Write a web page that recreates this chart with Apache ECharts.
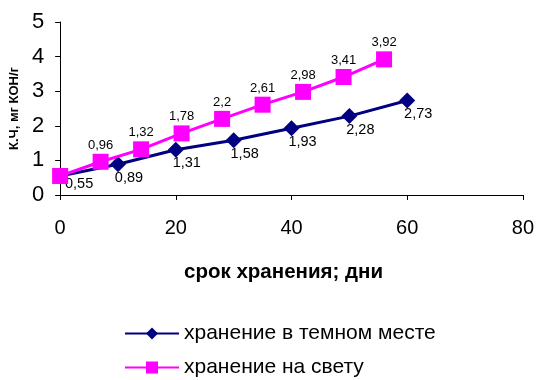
<!DOCTYPE html>
<html>
<head>
<meta charset="utf-8">
<script src="https://cdn.jsdelivr.net/npm/echarts@6/dist/echarts.min.js"></script>
<style>html,body{margin:0;padding:0;background:#fff;}#c{width:537px;height:380px;}</style>
</head>
<body>
<div id="c"></div>
<script>
var darkDays = [0, 10, 20, 30, 40, 50, 60];
var darkValues = [0.55, 0.89, 1.31, 1.58, 1.93, 2.28, 2.73];
var lightDays = [0, 7, 14, 21, 28, 35, 42, 49, 56];
var lightValues = [0.55, 0.96, 1.32, 1.78, 2.2, 2.61, 2.98, 3.41, 3.92];
var seriesNames = ['хранение в темном месте', 'хранение на свету'];
var xTitle = 'срок хранения; дни';
var yTitle = 'К.Ч, мг КОН/г';

function fmt(v) { return String(v).replace('.', ','); }

var darkData = darkDays.map(function (d, i) {
  var item = { value: [d, darkValues[i]] };
  if (i === 0) item.label = { offset: [19, -7] };
  return item;
});
var lightData = lightDays.map(function (d, i) {
  var item = { value: [d, lightValues[i]] };
  if (i === 0) item.label = { show: false };
  return item;
});

var chart = echarts.init(document.getElementById('c'));
var font = 'Arial, "Liberation Sans", sans-serif';
var legendBase = {
  orient: 'vertical', left: 124, padding: 0, itemWidth: 54, itemHeight: 15, itemGap: 0,
  textStyle: { fontFamily: font, fontSize: 21, color: '#000' }
};
chart.setOption({
  animation: false,
  textStyle: { fontFamily: font },
  grid: { left: 60, right: 13, top: 22, bottom: 185, containLabel: false },
  xAxis: {
    type: 'value', min: 0, max: 80, interval: 20,
    name: xTitle, nameLocation: 'middle', nameGap: 67,
    nameTextStyle: { fontFamily: font, fontSize: 20.5, fontWeight: 'bold', color: '#000', padding: [0, 16, 0, 0] },
    axisLine: { lineStyle: { color: '#000', width: 1 } },
    axisTick: { show: true, length: 5, lineStyle: { color: '#000' } },
    axisLabel: { fontFamily: font, fontSize: 20, color: '#000', margin: 23 },
    splitLine: { show: false }
  },
  yAxis: {
    type: 'value', min: 0, max: 5, interval: 1,
    name: yTitle, nameLocation: 'middle', nameGap: 37, nameRotate: 90,
    nameTextStyle: { fontFamily: font, fontSize: 13, fontWeight: 'bold', color: '#000' },
    axisLine: { show: true, lineStyle: { color: '#000', width: 1 } },
    axisTick: { show: true, length: 5, lineStyle: { color: '#000' } },
    axisLabel: { fontFamily: font, fontSize: 22, color: '#000', margin: 16 },
    splitLine: { show: false }
  },
  legend: [
    Object.assign({ top: 323, data: [seriesNames[0]] }, legendBase),
    Object.assign({ top: 357, data: [seriesNames[1]] }, legendBase)
  ],
  series: [
    {
      name: seriesNames[0], type: 'line', data: darkData,
      symbol: 'diamond', symbolSize: 16,
      lineStyle: { color: '#000080', width: 3 },
      itemStyle: { color: '#000080' },
      z: 2,
      label: {
        show: true, position: 'bottom', distance: 0, offset: [11, -2],
        fontFamily: font, fontSize: 14.5, color: '#000',
        formatter: function (p) { return fmt(p.value[1]); }
      }
    },
    {
      name: seriesNames[1], type: 'line', data: lightData,
      symbol: 'rect', symbolSize: 16,
      lineStyle: { color: '#FF00FF', width: 3 },
      itemStyle: { color: '#FF00FF' },
      z: 3,
      label: {
        show: true, position: 'top', distance: 2,
        fontFamily: font, fontSize: 13, color: '#000',
        formatter: function (p) { return fmt(p.value[1]); }
      }
    }
  ]
});
</script>
</body>
</html>
